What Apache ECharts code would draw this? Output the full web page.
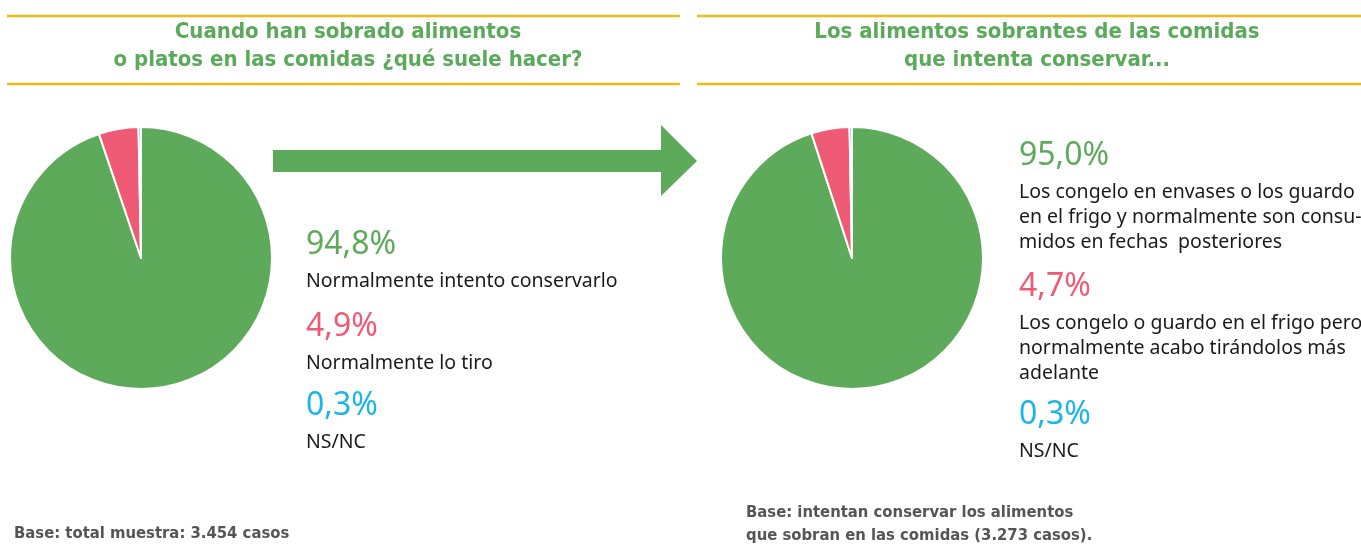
<!DOCTYPE html>
<html>
<head>
<meta charset="utf-8">
<script src="https://cdn.jsdelivr.net/npm/echarts@6/dist/echarts.min.js"></script>
<style>
  html, body { margin: 0; padding: 0; background: #fff; }
  #chart { width: 1361px; height: 556px; }
</style>
</head>
<body>
<div id="chart"></div>
<script>
// datos de las dos tartas
const colores = ['#5DAA5B', '#EF5A74', '#1AB6E8'];

const titulo1 = ['Cuando han sobrado alimentos', 'o platos en las comidas ¿qué suele hacer?'];
const categorias1 = ['Normalmente intento conservarlo', 'Normalmente lo tiro', 'NS/NC'];
const valores1 = [94.8, 4.9, 0.3];
const base1 = ['Base: total muestra: 3.454 casos'];

const titulo2 = ['Los alimentos sobrantes de las comidas', 'que intenta conservar...'];
const categorias2 = [
  'Los congelo en envases o los guardo\nen el frigo y normalmente son consu-\nmidos en fechas  posteriores',
  'Los congelo o guardo en el frigo pero\nnormalmente acabo tirándolos más\nadelante',
  'NS/NC'
];
const valores2 = [95.0, 4.7, 0.3];
const base2 = ['Base: intentan conservar los alimentos', 'que sobran en las comidas (3.273 casos).'];

const fmt = v => v.toFixed(1).replace('.', ',') + '%';

const amarillo = '#F5B914';
const fuenteTitulo = '"DejaVu Sans Condensed", "DejaVu Sans", sans-serif';
const fuenteTexto = '"Noto Sans", sans-serif';

var myChart = echarts.init(document.getElementById('chart'), null, {renderer: 'canvas'});

// bloque de leyenda a la derecha de cada tarta
function leyenda(x, tops, cats, vals) {
  const els = [];
  cats.forEach((c, i) => {
    els.push({
      type: 'text', left: x, top: tops[i],
      style: {text: fmt(vals[i]), fill: colores[i], font: '32px ' + fuenteTexto}
    });
    els.push({
      type: 'text', left: x, top: tops[i] + 40,
      style: {text: c, fill: '#1a1a1a', font: '19.5px ' + fuenteTexto, lineHeight: 25}
    });
  });
  return els;
}

function linea(x1, x2, y) {
  return {
    type: 'line', shape: {x1: x1, y1: y, x2: x2, y2: y},
    style: {stroke: amarillo, lineWidth: 2.5}
  };
}

const serieTarta = (centro, vals, cats) => ({
  type: 'pie',
  center: centro,
  radius: 131,
  startAngle: 90,
  clockwise: true,
  label: {show: false},
  labelLine: {show: false},
  emphasis: {disabled: true},
  itemStyle: {borderColor: '#fff', borderWidth: 2},
  data: vals.map((v, i) => ({name: cats[i], value: v, itemStyle: {color: colores[i]}}))
});

const estiloTitulo = {color: '#5BAA5B', fontFamily: fuenteTitulo, fontSize: 22, fontWeight: 'bold', lineHeight: 28};
const estiloBase = {color: '#555', fontFamily: fuenteTitulo, fontSize: 16.5, fontWeight: 'bold', lineHeight: 23};

const option = {
  backgroundColor: '#fff',
  animation: false,
  title: [
    {text: titulo1.join('\n'), left: 343, top: 13, textAlign: 'center', textStyle: estiloTitulo},
    {text: titulo2.join('\n'), left: 1032, top: 13, textAlign: 'center', textStyle: estiloTitulo},
    {text: base1.join('\n'), left: 9, top: 517, textStyle: estiloBase},
    {text: base2.join('\n'), left: 741, top: 496, textStyle: estiloBase}
  ],
  graphic: [
    linea(7, 680, 16), linea(7, 680, 84),
    linea(697, 1361, 16), linea(697, 1361, 84),
    {
      // flecha verde
      type: 'polygon',
      shape: {points: [[273, 150], [661, 150], [661, 125], [697, 161], [661, 196], [661, 172], [273, 172]]},
      style: {fill: '#5DAA5B'}
    },
    ...leyenda(306, [229, 311, 390], categorias1, valores1),
    ...leyenda(1019, [140, 271, 399], categorias2, valores2)
  ],
  series: [
    serieTarta([141, 258], valores1, categorias1),
    serieTarta([852, 258], valores2, categorias2)
  ]
};

myChart.setOption(option);
</script>
</body>
</html>
